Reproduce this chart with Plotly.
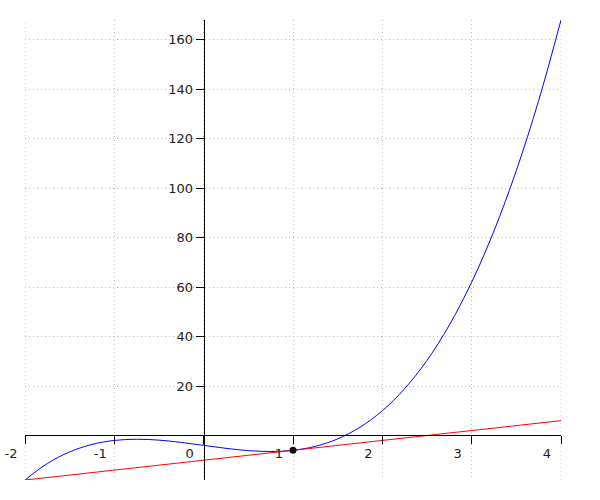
import plotly.graph_objects as go

# Curve values
curve_x = [-2, -1.75, -1.5, -1.25, -1, -0.75, -0.5, -0.25, 0, 0.25, 0.5, 0.75, 1,
           1.25, 1.5, 1.75, 2, 2.25, 2.5, 2.75, 3, 3.25, 3.5, 3.75, 4]
curve_y = [-18, -11.33, -6.63, -3.61, -2, -1.52, -1.88, -2.8, -4, -5.2, -6.13, -6.48, -6,
           -4.39, -1.38, 3.33, 10, 18.92, 30.38, 44.64, 62, 82.73, 107.13, 135.45, 168]

line_x = [-2, 4]
line_y = [-18, 6]

point_x = [1]
point_y = [-6]

x_ticks = [-2, -1, 0, 1, 2, 3, 4]
x_tick_labels = ["-2", "-1", "0", "1", "2", "3", "4"]
y_ticks = [20, 40, 60, 80, 100, 120, 140, 160]
y_tick_labels = ["20", "40", "60", "80", "100", "120", "140", "160"]

x_range = [-2, 4]
y_range = [-18, 168]

fig = go.Figure()
fig.add_trace(go.Scatter(x=curve_x, y=curve_y, mode="lines", line=dict(color="#0000ff", width=1, shape="spline"),
                         showlegend=False, hoverinfo="skip"))
fig.add_trace(go.Scatter(x=line_x, y=line_y, mode="lines", line=dict(color="#ff0000", width=1),
                         showlegend=False, hoverinfo="skip"))
fig.add_trace(go.Scatter(x=point_x, y=point_y, mode="markers", marker=dict(color="#111111", size=7),
                         showlegend=False, hoverinfo="skip"))

x0_frac = (0 - y_range[0]) / (y_range[1] - y_range[0])
y0_frac = (0 - x_range[0]) / (x_range[1] - x_range[0])

grid_color = "#bbbbbb"
grid_dash = "1px,3px"

axis_common = dict(
    showline=True, linecolor="black", linewidth=1,
    ticks="outside", ticklen=8, tickwidth=1, tickcolor="black",
    showgrid=True, gridcolor=grid_color, gridwidth=1, griddash=grid_dash,
    zeroline=False, tickfont=dict(family="DejaVu Sans", size=13, color="#222222"),
    fixedrange=True, automargin=False, ticklabeloverflow="allow",
)

# edge grid lines (plotly skips grid lines on the plot-area border)
for xv in (x_range[0], x_range[1]):
    fig.add_shape(type="line", xref="x", yref="paper", x0=xv, x1=xv, y0=0, y1=1,
                  line=dict(color=grid_color, width=1, dash=grid_dash), layer="below")

fig.update_layout(
    width=600, height=500, autosize=False,
    margin=dict(l=25, r=39, t=20, b=20),
    paper_bgcolor="white", plot_bgcolor="white",
    hovermode=False,
    xaxis=dict(range=x_range, tickvals=x_ticks, ticktext=x_tick_labels,
               anchor="free", position=x0_frac, ticklabelshift=-14, ticklabelstandoff=-2,
               **axis_common),
    yaxis=dict(range=y_range, tickvals=y_ticks, ticktext=y_tick_labels,
               anchor="free", position=y0_frac, **axis_common),
)

fig.write_html("out.html", config={"displayModeBar": False},
               post_script="document.body.style.margin='0';")
